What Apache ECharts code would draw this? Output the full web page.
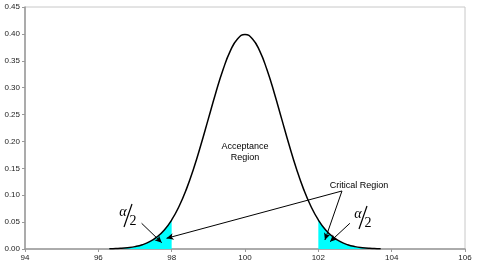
<!DOCTYPE html>
<html>
<head>
<meta charset="utf-8">
<script src="https://cdn.jsdelivr.net/npm/echarts@6/dist/echarts.min.js"></script>
<style>html,body{margin:0;padding:0;background:#fff}#c{width:489px;height:265px}</style>
</head>
<body>
<div id="c"></div>
<script>
// x positions
var xs = [96.3, 96.4, 96.6, 96.8, 97.0, 97.2, 97.4, 97.6, 97.8, 98.0, 98.2, 98.4, 98.6, 98.8, 99.0, 99.2, 99.4, 99.6, 99.8, 100.0,
          100.2, 100.4, 100.6, 100.8, 101.0, 101.2, 101.4, 101.6, 101.8, 102.0, 102.2, 102.4, 102.6, 102.8, 103.0, 103.2, 103.4, 103.6, 103.7];
// density values
var ys = [0.0004, 0.0006, 0.0012, 0.0024, 0.0044, 0.0079, 0.0136, 0.0224, 0.0355, 0.0540, 0.0790, 0.1109, 0.1497, 0.1942, 0.2420, 0.2897, 0.3332, 0.3683, 0.3910, 0.3989,
          0.3910, 0.3683, 0.3332, 0.2897, 0.2420, 0.1942, 0.1497, 0.1109, 0.0790, 0.0540, 0.0355, 0.0224, 0.0136, 0.0079, 0.0044, 0.0024, 0.0012, 0.0006, 0.0004];
var lowerCritical = 98;
var upperCritical = 102;
var xTicks = [94, 96, 98, 100, 102, 104, 106];
var yTicks = [0, 0.05, 0.10, 0.15, 0.20, 0.25, 0.30, 0.35, 0.40, 0.45];

var curve = xs.map(function (x, i) { return [x, ys[i]]; });
var leftTail = curve.filter(function (p) { return p[0] <= lowerCritical; });
var rightTail = curve.filter(function (p) { return p[0] >= upperCritical; });

var chart = echarts.init(document.getElementById('c'), null, {renderer: 'canvas'});
var lab = {fontFamily: 'Arial, "Liberation Sans", sans-serif', fontSize: 8, color: '#222'};
chart.setOption({
  animation: false,
  grid: {left: 25, right: 24, top: 7, bottom: 16, show: true, borderColor: '#c8c8c8', borderWidth: 1},
  xAxis: {
    type: 'value', min: xTicks[0], max: xTicks[xTicks.length - 1], interval: 2,
    axisLine: {show: true, onZero: false, lineStyle: {color: '#999', width: 1.5}},
    axisTick: {show: true, length: 3, lineStyle: {color: '#999'}},
    splitLine: {show: false},
    axisLabel: Object.assign({margin: 5}, lab)
  },
  yAxis: {
    type: 'value', min: yTicks[0], max: yTicks[yTicks.length - 1], interval: 0.05,
    axisLine: {show: true, lineStyle: {color: '#999', width: 1.5}},
    axisTick: {show: true, length: 3, lineStyle: {color: '#999'}},
    splitLine: {show: false},
    axisLabel: Object.assign({margin: 5, formatter: function (v) { return v.toFixed(2); }}, lab)
  },
  series: [
    {type: 'line', data: leftTail, smooth: true, symbol: 'none', lineStyle: {width: 0},
     areaStyle: {color: '#00ffff', opacity: 1}, z: 1},
    {type: 'line', data: rightTail, smooth: true, symbol: 'none', lineStyle: {width: 0},
     areaStyle: {color: '#00ffff', opacity: 1}, z: 1},
    {type: 'line', data: curve, smooth: true, symbol: 'none',
     lineStyle: {color: '#000', width: 1.5}, z: 3,
     markLine: {
       silent: true, symbol: ['none', 'arrow'], symbolSize: [5, 7],
       label: {show: false},
       lineStyle: {color: '#000', width: 1, type: 'solid'},
       emphasis: {disabled: true},
       data: [
         [{coord: [102.645, 0.1079]}, {coord: [97.86, 0.0199]}],
         [{coord: [102.645, 0.1079]}, {coord: [102.18, 0.0167]}],
         [{coord: [97.18, 0.0478]}, {coord: [97.73, 0.0117]}],
         [{coord: [102.86, 0.0478]}, {coord: [102.32, 0.0136]}]
       ]
     }}
  ],
  graphic: [
    {type: 'text', position: [245, 152],
     style: {text: 'Acceptance\nRegion', textAlign: 'center', textVerticalAlign: 'middle',
             font: '9px Arial, "Liberation Sans", sans-serif', fill: '#000', lineHeight: 11}, z: 10},
    {type: 'text', position: [359, 186],
     style: {text: 'Critical Region', textAlign: 'center', textVerticalAlign: 'middle',
             font: '9px Arial, "Liberation Sans", sans-serif', fill: '#000'}, z: 10},
    // left alpha/2
    {type: 'text', position: [123, 212], style: {text: 'α', textAlign: 'center', textVerticalAlign: 'middle', font: 'italic 14px "Liberation Serif", "DejaVu Serif", serif', fill: '#000'}, z: 10},
    {type: 'line', shape: {x1: 132, y1: 204, x2: 124, y2: 227}, style: {stroke: '#000', lineWidth: 1.2}, z: 10},
    {type: 'text', position: [133, 221], style: {text: '2', textAlign: 'center', textVerticalAlign: 'middle', font: '14px "Liberation Serif", "DejaVu Serif", serif', fill: '#000'}, z: 10},
    // right alpha/2
    {type: 'text', position: [358, 214], style: {text: 'α', textAlign: 'center', textVerticalAlign: 'middle', font: 'italic 14px "Liberation Serif", "DejaVu Serif", serif', fill: '#000'}, z: 10},
    {type: 'line', shape: {x1: 367, y1: 206, x2: 359, y2: 229}, style: {stroke: '#000', lineWidth: 1.2}, z: 10},
    {type: 'text', position: [368, 223], style: {text: '2', textAlign: 'center', textVerticalAlign: 'middle', font: '14px "Liberation Serif", "DejaVu Serif", serif', fill: '#000'}, z: 10}
  ]
});
</script>
</body>
</html>
